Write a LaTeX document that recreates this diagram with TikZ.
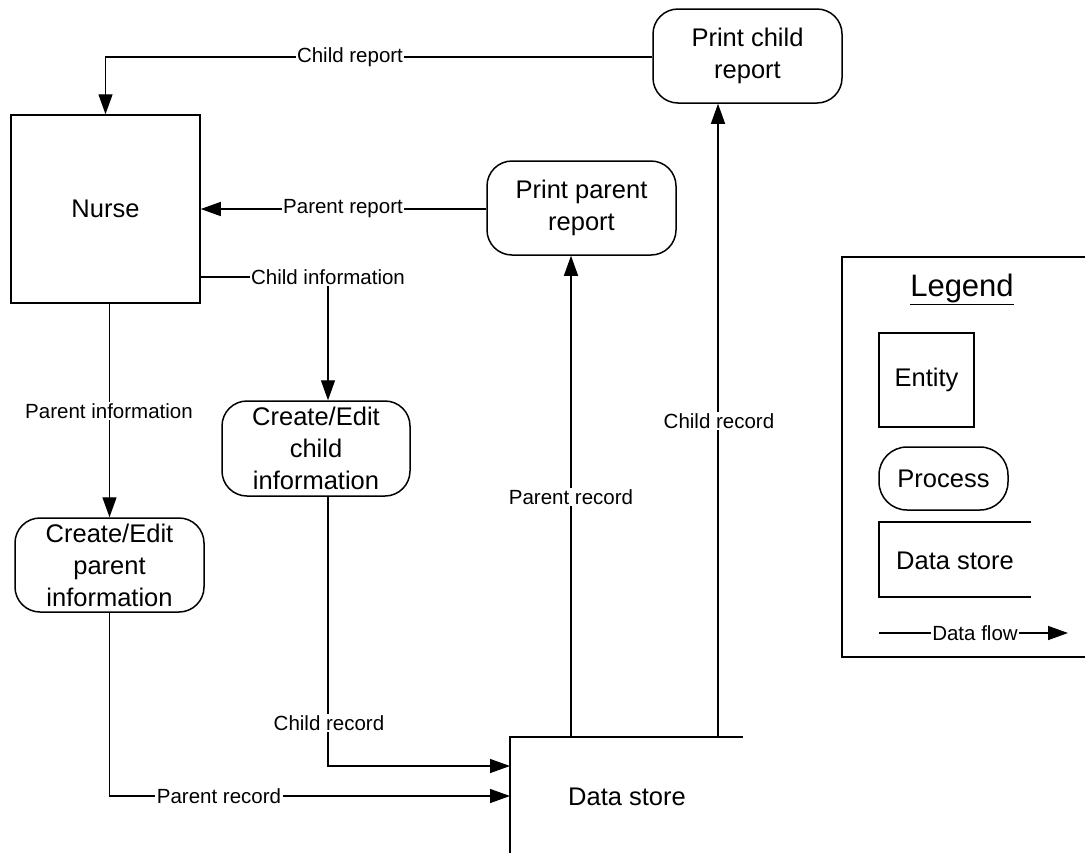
\documentclass[tikz,border=0pt]{standalone}
\usepackage{fontspec}
\setmainfont{Liberation Sans}
\usetikzlibrary{arrows.meta}
\pgfdeclarelayer{bg}
\pgfsetlayers{bg,main}
\tikzset{
  boxline/.style={line width=1.5pt},
  entity/.style={boxline, draw, fill=white, minimum width=189pt, minimum height=188pt, inner sep=0pt, font=\fontsize{25.5}{32}\selectfont},
  proc/.style={boxline, draw, fill=white, rounded corners=25pt, minimum width=189pt, minimum height=94pt, inner sep=0pt, align=center, font=\fontsize{25.5}{32}\selectfont},
  lbl/.style={fill=white, inner sep=1.5pt, font=\fontsize{20.5}{24}\selectfont},
  txt/.style={inner sep=0pt, font=\fontsize{25.5}{32}\selectfont},
  flow/.style={line width=1.4pt, -{Triangle[length=20pt, width=14pt]}},
  plain/.style={line width=1.4pt},
}
\begin{document}
\begin{tikzpicture}[x=1pt, y=-1pt]
\useasboundingbox (0,0) rectangle (1085,852);

% main boxes
\node[entity] (nurse) at (105.5,209) {Nurse};
\node[proc] (pcr) at (747.5,56) {Print child\\report};
\node[proc] (ppr) at (581.5,208) {Print parent\\report};
\node[proc, minimum width=188pt, minimum height=95pt] (cec) at (316,448.5) {Create/Edit\\child\\information};
\node[proc] (cep) at (109.5,565) {Create/Edit\\parent\\information};

% data store
\coordinate (dsTL) at (510,737);
\coordinate (dsTR) at (743,737);
\coordinate (dsBL) at (510,860);
\draw[boxline] (dsTR) -- (dsTL) -- (dsBL);
\node[txt] (ds) at (627,797) {Data store};
\coordinate (dsin1) at (510,766);
\coordinate (dsin2) at (510,796);
\coordinate (dsout1) at (571,737);
\coordinate (dsout2) at (718,737);

% labels
\node[lbl] (crep) at (350,57) {Child report};
\node[lbl] (prep) at (343,209) {Parent report};
\node[lbl] (cinf) at (328,277) {Child information};
\node[lbl] (pinf) at (109,411) {Parent information};
\node[lbl] (crec1) at (329,723) {Child record};
\node[lbl] (prec1) at (219,796) {Parent record};
\node[lbl] (prec2) at (571,497) {Parent record};
\node[lbl] (crec2) at (719,421) {Child record};

% connectors
\begin{pgfonlayer}{bg}
\draw[flow] (pcr.west |- crep) -| (nurse.north);
\draw[flow] (ppr.west |- prep) -- (nurse.east |- prep);
\draw[plain] (nurse.east |- cinf) -- (cinf.center);
\draw[flow] (cinf.center) -- (cinf.center |- cec.north);
\draw[flow] (nurse.south -| cep.north) -- (cep.north);
\draw[flow] (cec.south -| cinf) |- (dsin1);
\draw[flow] (cep.south) |- (dsin2);
\draw[flow] (dsout1) -- (ppr.south -| dsout1);
\draw[flow] (dsout2) -- (pcr.south -| dsout2);
\end{pgfonlayer}

% legend
\draw[boxline] (1086,257) -| (842,657) -- (1086,657);
\node[inner sep=0pt, font=\fontsize{31}{36}\selectfont] (legtitle) at (962,289) {\underline{Legend}};
\node[entity, minimum width=95pt, minimum height=94pt] (legent) at (926.5,380) {Entity};
\node[proc, minimum width=129pt, minimum height=63pt, rounded corners=28pt] (legproc) at (943.5,478.5) {Process};
\draw[boxline] (1031,522) -- (879,522) -- (879,597) -- (1031,597);
\node[txt] (legds) at (955,561) {Data store};
\node[inner sep=1pt, font=\fontsize{20.5}{24}\selectfont] (legdf) at (975,633) {Data flow};
\coordinate (legdfA) at (879,633);
\coordinate (legdfB) at (1068,633);
\draw[plain] (legdfA) -- (legdf.west);
\draw[flow] (legdf.east) -- (legdfB);
\end{tikzpicture}
\end{document}
